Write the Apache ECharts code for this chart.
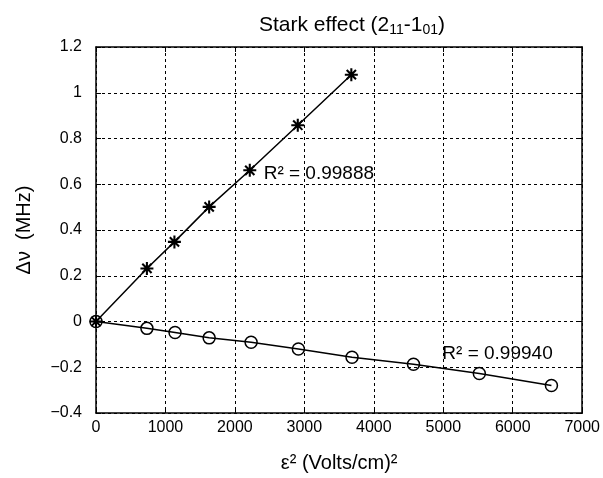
<!DOCTYPE html>
<html>
<head>
<meta charset="utf-8">
<script src="https://cdn.jsdelivr.net/npm/echarts@6/dist/echarts.min.js"></script>
<style>
html,body{margin:0;padding:0;background:#fff;}
#chart{width:603px;height:478px;}
</style>
</head>
<body>
<div id="chart"></div>
<script>
// ---- data ----
const starX = [0, 733, 1129, 1629, 2214, 2905, 3676];
const starShift = [0, 0.232, 0.348, 0.501, 0.661, 0.858, 1.079];
const circleX = [0, 733, 1138, 1629, 2233, 2914, 3686, 4571, 5519, 6557];
const circleShift = [0, -0.030, -0.048, -0.0715, -0.091, -0.120, -0.156, -0.187, -0.227, -0.280];
// R^2 annotations (anchor = left edge of text, in data units)
const annotX = [2414, 4986];
const annotY = [0.647, -0.141];
const annotText = ['R\u00b2 = 0.99888', 'R\u00b2 = 0.99940'];
// axis ranges
const xMin = 0, xMax = 7000, xStep = 1000;
const yMin = -0.4, yMax = 1.2, yStep = 0.2;

const FONT = '"Liberation Sans", Arial, Helvetica, sans-serif';
const starPath = 'path://M0,8.4L20,8.4L20,11.6L0,11.6Z M8.4,0L11.6,0L11.6,20L8.4,20Z ' +
  'M4.0,1.74L18.26,16.0L16.0,18.26L1.74,4.0Z M16.0,1.74L18.26,4.0L4.0,18.26L1.74,16.0Z';

const zip = (xs, ys) => ys.map((y, i) => [xs[i], y]);
const fmtY = v => String(Math.round(v * 10) / 10).replace('-', '\u2212');
const fmtX = v => String(v);

const chart = echarts.init(document.getElementById('chart'), null, {renderer: 'canvas'});
const axisLineStyle = {color: '#000', width: 1.5};
const option = {
  backgroundColor: '#fff',
  animation: false,
  textStyle: {fontFamily: FONT},
  title: {
    text: '{n|Stark effect (2}{s|11}{n|-1}{s|01}{n|)}',
    left: 347, top: 8, textAlign: 'center',
    textStyle: {
      fontWeight: 'normal',
      rich: {
        n: {fontSize: 21, lineHeight: 24, color: '#000', fontWeight: 'normal', fontFamily: FONT},
        s: {fontSize: 14, lineHeight: 14, verticalAlign: 'bottom', color: '#000', fontWeight: 'normal', fontFamily: FONT}
      }
    }
  },
  grid: {left: 96, right: 17, top: 47, bottom: 57, containLabel: false},
  xAxis: [{
    type: 'value', min: xMin, max: xMax, interval: xStep, position: 'bottom',
    name: '\u03b5\u00b2 (Volts/cm)\u00b2', nameLocation: 'middle', nameGap: 40,
    nameTextStyle: {fontSize: 20, color: '#000', fontFamily: FONT},
    axisLine: {show: true, onZero: false, lineStyle: axisLineStyle},
    axisTick: {show: true, inside: true, length: 5, lineStyle: {color: '#000', width: 1}},
    axisLabel: {fontSize: 16, color: '#000', margin: 7, formatter: fmtX, fontFamily: FONT},
    splitLine: {show: true, lineStyle: {color: '#000', width: 1, type: [3, 3]}}
  }, {
    type: 'value', min: xMin, max: xMax, interval: xStep, position: 'top',
    axisLine: {show: true, onZero: false, lineStyle: axisLineStyle},
    axisTick: {show: true, inside: true, length: 5, lineStyle: {color: '#000', width: 1}},
    axisLabel: {show: false}, splitLine: {show: false}
  }],
  yAxis: [{
    type: 'value', min: yMin, max: yMax, interval: yStep, position: 'left',
    name: '\u0394\u03bd  (MHz)', nameLocation: 'middle', nameGap: 62, nameRotate: 90,
    nameTextStyle: {fontSize: 20, color: '#000', fontFamily: FONT},
    axisLine: {show: true, onZero: false, lineStyle: axisLineStyle},
    axisTick: {show: true, inside: true, length: 5, lineStyle: {color: '#000', width: 1}},
    axisLabel: {fontSize: 16, color: '#000', margin: 14, formatter: fmtY, fontFamily: FONT},
    splitLine: {show: true, lineStyle: {color: '#000', width: 1, type: [3, 3]}}
  }, {
    type: 'value', min: yMin, max: yMax, interval: yStep, position: 'right',
    axisLine: {show: true, onZero: false, lineStyle: axisLineStyle},
    axisTick: {show: true, inside: true, length: 5, lineStyle: {color: '#000', width: 1}},
    axisLabel: {show: false}, splitLine: {show: false}
  }],
  series: [{
    type: 'line', name: 'stars', data: zip(starX, starShift),
    symbol: starPath, symbolSize: 13, showAllSymbol: true,
    lineStyle: {color: '#000', width: 1.5},
    itemStyle: {color: '#000', opacity: 1},
    z: 3
  }, {
    type: 'line', name: 'circles', data: zip(circleX, circleShift),
    symbol: 'circle', symbolSize: 12, showAllSymbol: true,
    lineStyle: {color: '#000', width: 1.5},
    itemStyle: {color: 'rgba(0,0,0,0)', borderColor: '#000', borderWidth: 1.5},
    z: 4
  }, {
    type: 'scatter', name: 'annot', data: zip(annotX, annotY),
    symbolSize: 0, silent: true,
    itemStyle: {opacity: 1, color: '#000'},
    label: {
      show: true, position: 'right', distance: 0, opacity: 1,
      formatter: p => annotText[p.dataIndex],
      fontSize: 19, color: '#000', fontFamily: FONT
    },
    z: 5
  }]
};
chart.setOption(option);
</script>
</body>
</html>
